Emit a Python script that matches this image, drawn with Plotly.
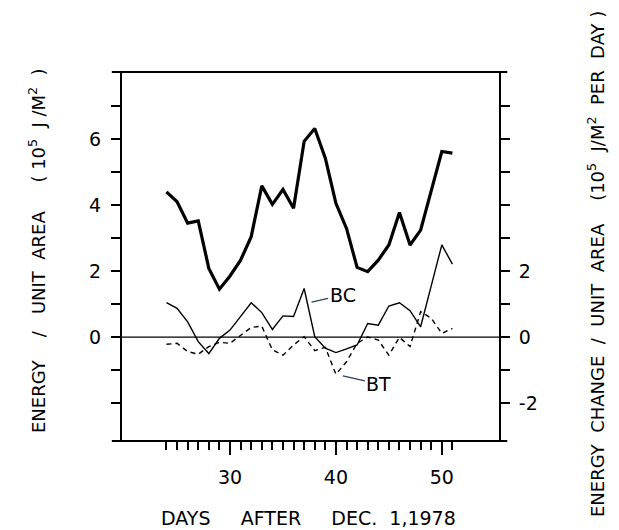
import plotly.graph_objects as go

days = list(range(24, 52))
total_energy = [4.4, 4.1, 3.45, 3.52, 2.08, 1.45, 1.85, 2.33, 3.04, 4.58, 4.02, 4.47, 3.9, 5.93,
                6.32, 5.42, 4.05, 3.29, 2.11, 1.98, 2.33, 2.79, 3.77, 2.79, 3.24, 4.45, 5.62, 5.57]
bc = [1.04, 0.87, 0.46, -0.14, -0.5, -0.04, 0.21, 0.62, 1.04, 0.74, 0.23, 0.64, 0.62, 1.47,
      0.01, -0.34, -0.47, -0.36, -0.24, 0.41, 0.36, 0.94, 1.04, 0.8, 0.31, 1.55, 2.79, 2.21]
bt = [-0.22, -0.19, -0.44, -0.52, -0.29, -0.16, -0.19, 0.06, 0.29, 0.33, -0.39, -0.55, -0.24, 0.01,
      -0.41, -0.31, -1.13, -0.75, -0.19, 0.0, -0.09, -0.55, -0.01, -0.29, 0.77, 0.57, 0.11, 0.26]

x_major = [30, 40, 50]
x_major_text = ["30", "40", "50"]
left_ticks = [-2, -1, 0, 1, 2, 3, 4, 5, 6, 7]
left_text = ["", "", "0", "", "2", "", "4", "", "6", ""]
right_ticks = [-2, -1, 0, 1, 2, 3, 4, 5, 6, 7]
right_text = ["-2", "", "0", "", "2", "", "", "", "", ""]

FONT = "DejaVu Sans"
YR = [-3.15, 8.03]
XR = [19.8, 55.4]
S = "\u00a0"

fig = go.Figure()
fig.add_trace(go.Scatter(x=days, y=total_energy, mode="lines",
                         line=dict(color="black", width=3.2), yaxis="y", showlegend=False))
fig.add_trace(go.Scatter(x=days, y=bc, mode="lines",
                         line=dict(color="black", width=1.4), yaxis="y2", showlegend=False))
fig.add_trace(go.Scatter(x=days, y=bt, mode="lines",
                         line=dict(color="black", width=1.4, dash="5px,4px"), yaxis="y2", showlegend=False))

fig.update_layout(
    width=619, height=530,
    margin=dict(l=122, r=120, t=72, b=89),
    paper_bgcolor="white", plot_bgcolor="white",
    font=dict(family=FONT, color="black", size=16),
    xaxis=dict(range=XR, showgrid=False, zeroline=False, showline=False,
               tickmode="array", tickvals=x_major, ticktext=x_major_text,
               ticks="outside", ticklen=13, tickwidth=1.5, tickcolor="black",
               tickfont=dict(size=19), ticklabelstandoff=6,
               minor=dict(tickmode="array", tickvals=days, ticks="outside",
                          ticklen=8, tickwidth=1.5, tickcolor="black", showgrid=False)),
    yaxis=dict(range=YR, showgrid=False, zeroline=False, showline=True, linewidth=2,
               linecolor="black", tickmode="array", tickvals=left_ticks, ticktext=left_text,
               ticks="outside", ticklen=9, tickwidth=1.5, tickcolor="black",
               tickfont=dict(size=19), ticklabelstandoff=6),
    yaxis2=dict(range=YR, overlaying="y", side="right", showgrid=False, zeroline=False,
                showline=True, linewidth=2, linecolor="black",
                tickmode="array", tickvals=right_ticks, ticktext=right_text,
                ticks="outside", ticklen=9, tickwidth=1.5, tickcolor="black",
                tickfont=dict(size=19), ticklabelstandoff=5),
)

# frame top/bottom lines with overhang, zero line
fig.add_shape(type="line", xref="paper", yref="paper", x0=-0.027, x1=1.022, y0=1, y1=1,
              line=dict(color="black", width=2))
fig.add_shape(type="line", xref="paper", yref="paper", x0=-0.027, x1=1.022, y0=0, y1=0,
              line=dict(color="black", width=2))
fig.add_shape(type="line", xref="paper", yref="y", x0=0, x1=1, y0=0, y1=0,
              line=dict(color="black", width=1.3))

# series labels
fig.add_annotation(x=37.7, y=1.06, xref="x", yref="y2", text="BC", showarrow=True,
                   arrowhead=0, arrowwidth=1.3, ax=31, ay=-7, font=dict(size=19))
fig.add_annotation(x=40.66, y=-1.18, xref="x", yref="y2", text="BT", showarrow=True,
                   arrowhead=0, arrowwidth=1.3, ax=36, ay=8, font=dict(size=19))

# axis titles
fig.add_annotation(xref="paper", yref="paper", x=(308 - 122) / 377, y=(530 - 518 - 89) / 369,
                   text="DAYS" + S * 5 + "AFTER" + S * 5 + "DEC." + S * 2 + "1,1978",
                   showarrow=False, font=dict(size=19), xanchor="center", yanchor="middle")
fig.add_annotation(xref="paper", yref="paper", x=(37 - 122) / 377, y=(530 - 89 - 251) / 369,
                   text="ENERGY" + S * 4 + "/" + S * 3 + "UNIT" + S * 2 + "AREA" + S * 5 + "(" + S
                        + "10<sup>5</sup>" + S * 2 + "J" + S + "/M<sup>2</sup>" + S * 2 + ")",
                   textangle=-90, showarrow=False, font=dict(size=18),
                   xanchor="center", yanchor="middle")
fig.add_annotation(xref="paper", yref="paper", x=(596 - 122) / 377, y=(530 - 89 - 264) / 369,
                   text="ENERGY" + S * 2 + "CHANGE" + S * 2 + "/" + S * 2 + "UNIT" + S * 2 + "AREA"
                        + S * 4 + "(10<sup>5</sup>" + S * 2 + "J/M<sup>2</sup>" + S * 2 + "PER" + S * 2
                        + "DAY" + S + ")",
                   textangle=-90, showarrow=False, font=dict(size=18),
                   xanchor="center", yanchor="middle")

fig.write_html("out.html")
